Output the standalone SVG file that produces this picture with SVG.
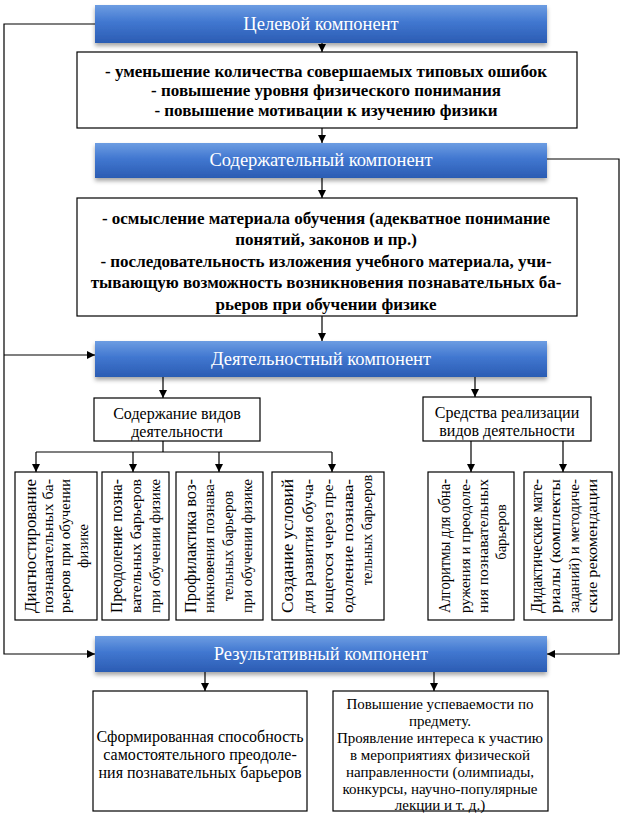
<svg xmlns="http://www.w3.org/2000/svg" width="629" height="816" viewBox="0 0 629 816">
<defs>
<linearGradient id="blue" x1="0" y1="0" x2="0" y2="1">
<stop offset="0" stop-color="#6d9de2"/>
<stop offset="0.45" stop-color="#4177d0"/>
<stop offset="1" stop-color="#2b5cb3"/>
</linearGradient>
<filter id="sh" x="-5%" y="-20%" width="110%" height="160%">
<feDropShadow dx="0" dy="3" stdDeviation="2" flood-color="#000" flood-opacity="0.35"/>
</filter>
<marker id="ar" viewBox="0 0 8 8" refX="8" refY="4" markerWidth="8" markerHeight="8" markerUnits="userSpaceOnUse" orient="auto">
<path d="M0,0 L8,4 L0,8 z" fill="#000"/>
</marker>
<style>
.bl{fill:url(#blue);filter:url(#sh)}
.bx{fill:#fff;stroke:#000;stroke-width:1.2}
.ttl{font-size:18.5px;fill:#fff;text-anchor:middle}
.bd{font-size:17px;font-weight:bold;text-anchor:middle}
.m{font-size:16px;text-anchor:middle}
.l{font-size:16px;text-anchor:middle}
.s{font-size:15px;text-anchor:middle}
.v1{font-size:17.5px;text-anchor:middle}
.v2{font-size:14.5px;text-anchor:middle}
.c{fill:none;stroke:#000;stroke-width:1.2}
.ca{fill:none;stroke:#000;stroke-width:1.2;marker-end:url(#ar)}
</style>
</defs>
<rect width="629" height="816" fill="#fff"/>

<g id="connectors">
<path class="ca" d="M95,24 H4 V654 H95"/>
<path class="ca" d="M4,355 H95"/>
<path class="ca" d="M547,159 H619 V654 H547"/>
<path class="ca" d="M322,43 V52"/>
<path class="ca" d="M322,128 V143"/>
<path class="ca" d="M322,178 V198"/>
<path class="ca" d="M322,316 V341"/>
<path class="ca" d="M163,377 V398"/>
<path class="ca" d="M475,377 V397"/>
<path class="c" d="M163,441 V452 M36,452 H332"/>
<path class="ca" d="M36,452 V472"/>
<path class="ca" d="M133,452 V472"/>
<path class="ca" d="M219,452 V472"/>
<path class="ca" d="M332,452 V472"/>
<path class="ca" d="M471,441 V472"/>
<path class="ca" d="M563,441 V472"/>
<path class="ca" d="M205,672 V691"/>
<path class="ca" d="M434,672 V691"/>
</g>

<g font-family="'Liberation Serif', 'Times New Roman', 'DejaVu Serif', serif" fill="#000">
<g id="n-target">
<rect class="bl" x="95" y="5" width="452" height="38"/>
<text class="ttl" x="321" y="30">Целевой компонент</text>
</g>
<g id="n-goals">
<rect class="bx" x="77" y="52" width="500" height="76"/>
<text class="bd" x="326" y="77">- уменьшение количества совершаемых типовых ошибок</text>
<text class="bd" x="326" y="96">- повышение уровня физического понимания</text>
<text class="bd" x="326" y="116">- повышение мотивации к изучению физики</text>
</g>
<g id="n-content">
<rect class="bl" x="95" y="143" width="452" height="35"/>
<text class="ttl" x="321" y="166">Содержательный компонент</text>
</g>
<g id="n-content-items">
<rect class="bx" x="77" y="198" width="500" height="118"/>
<text class="bd" x="326" y="224">- осмысление материала обучения (адекватное понимание</text>
<text class="bd" x="326" y="245">понятий, законов и пр.)</text>
<text class="bd" x="326" y="267">- последовательность изложения учебного материала, учи-</text>
<text class="bd" x="326" y="288">тывающую возможность возникновения познавательных ба-</text>
<text class="bd" x="326" y="310">рьеров при обучении физике</text>
</g>
<g id="n-activity">
<rect class="bl" x="95" y="341" width="452" height="36"/>
<text class="ttl" x="321" y="365">Деятельностный компонент</text>
</g>
<g id="n-kinds">
<rect class="bx" x="94" y="398" width="166" height="43"/>
<text class="m" x="177" y="419">Содержание видов</text>
<text class="m" x="177" y="437">деятельности</text>
</g>
<g id="n-means">
<rect class="bx" x="423" y="397" width="168" height="44"/>
<text class="m" x="507" y="418">Средства реализации</text>
<text class="m" x="507" y="436">видов деятельности</text>
</g>

<g id="n-v1">
<rect class="bx" x="15" y="472" width="82" height="148"/>
<text class="v1" transform="translate(36,546) rotate(-90)" textLength="134" lengthAdjust="spacingAndGlyphs">Диагностирование</text>
<text class="v2" transform="translate(53,546) rotate(-90)" textLength="134" lengthAdjust="spacingAndGlyphs">познавательных ба-</text>
<text class="v2" transform="translate(70,546) rotate(-90)" textLength="134" lengthAdjust="spacingAndGlyphs">рьеров при обучении</text>
<text class="v2" transform="translate(88,546) rotate(-90)">физике</text>
</g>
<g id="n-v2">
<rect class="bx" x="102" y="472" width="67" height="148"/>
<text class="v1" transform="translate(122,546) rotate(-90)" textLength="134" lengthAdjust="spacingAndGlyphs">Преодоление позна-</text>
<text class="v2" transform="translate(141,546) rotate(-90)" textLength="134" lengthAdjust="spacingAndGlyphs">вательных барьеров</text>
<text class="v2" transform="translate(160,546) rotate(-90)" textLength="134" lengthAdjust="spacingAndGlyphs">при обучении физике</text>
</g>
<g id="n-v3">
<rect class="bx" x="176" y="472" width="87" height="148"/>
<text class="v1" transform="translate(196,546) rotate(-90)" textLength="134" lengthAdjust="spacingAndGlyphs">Профилактика воз-</text>
<text class="v2" transform="translate(214,546) rotate(-90)" textLength="134" lengthAdjust="spacingAndGlyphs">никновения познава-</text>
<text class="v2" transform="translate(233,546) rotate(-90)">тельных барьеров</text>
<text class="v2" transform="translate(252,546) rotate(-90)" textLength="134" lengthAdjust="spacingAndGlyphs">при обучении физике</text>
</g>
<g id="n-v4">
<rect class="bx" x="272" y="472" width="112" height="148"/>
<text class="v1" transform="translate(293,546) rotate(-90)" textLength="134" lengthAdjust="spacingAndGlyphs">Создание условий</text>
<text class="v2" transform="translate(313,546) rotate(-90)" textLength="134" lengthAdjust="spacingAndGlyphs">для развития обуча-</text>
<text class="v2" transform="translate(333,546) rotate(-90)" textLength="134" lengthAdjust="spacingAndGlyphs">ющегося через пре-</text>
<text class="v2" transform="translate(353,546) rotate(-90)" textLength="134" lengthAdjust="spacingAndGlyphs">одоление познава-</text>
<text class="v2" transform="translate(372,530) rotate(-90)">тельных барьеров</text>
</g>
<g id="n-v5">
<rect class="bx" x="428" y="472" width="86" height="148"/>
<text class="v1" transform="translate(450,546) rotate(-90)" textLength="134" lengthAdjust="spacingAndGlyphs">Алгоритмы для обна-</text>
<text class="v2" transform="translate(470,546) rotate(-90)" textLength="134" lengthAdjust="spacingAndGlyphs">ружения и преодоле-</text>
<text class="v2" transform="translate(488,546) rotate(-90)" textLength="134" lengthAdjust="spacingAndGlyphs">ния познавательных</text>
<text class="v2" transform="translate(506,532) rotate(-90)">барьеров</text>
</g>
<g id="n-v6">
<rect class="bx" x="524" y="472" width="88" height="148"/>
<text class="v1" transform="translate(542,546) rotate(-90)" textLength="134" lengthAdjust="spacingAndGlyphs">Дидактические мате-</text>
<text class="v2" transform="translate(560,546) rotate(-90)" textLength="134" lengthAdjust="spacingAndGlyphs">риалы (комплекты</text>
<text class="v2" transform="translate(579,546) rotate(-90)" textLength="134" lengthAdjust="spacingAndGlyphs">заданий) и методиче-</text>
<text class="v2" transform="translate(597,546) rotate(-90)" textLength="134" lengthAdjust="spacingAndGlyphs">ские рекомендации</text>
</g>

<g id="n-result">
<rect class="bl" x="95" y="636" width="452" height="36"/>
<text class="ttl" x="321" y="660">Результативный компонент</text>
</g>
<g id="n-result-left">
<rect class="bx" x="93" y="691" width="214" height="120"/>
<text class="l" x="200" y="742">Сформированная способность</text>
<text class="l" x="200" y="760">самостоятельного преодоле-</text>
<text class="l" x="200" y="778">ния познавательных барьеров</text>
</g>
<g id="n-result-right">
<rect class="bx" x="333" y="691" width="215" height="120"/>
<text class="s" x="440" y="709">Повышение успеваемости по</text>
<text class="s" x="440" y="726">предмету.</text>
<text class="s" x="440" y="743">Проявление интереса к участию</text>
<text class="s" x="440" y="760">в мероприятиях физической</text>
<text class="s" x="440" y="777">направленности (олимпиады,</text>
<text class="s" x="440" y="794">конкурсы, научно-популярные</text>
<text class="s" x="440" y="810">лекции и т. д.)</text>
</g>
</g>
</svg>
